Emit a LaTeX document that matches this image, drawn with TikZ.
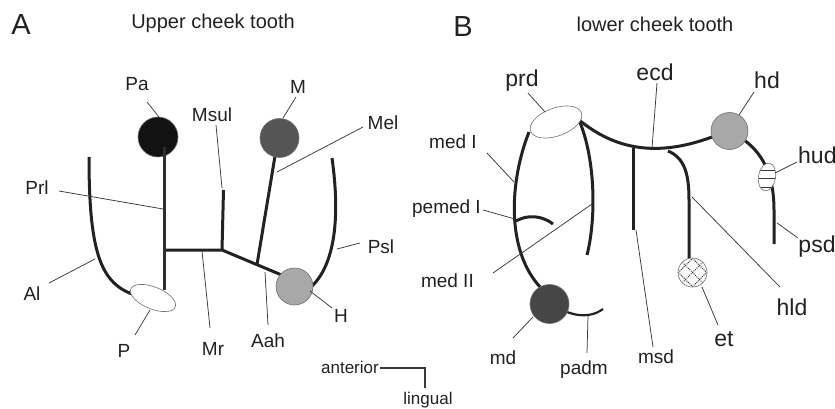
\documentclass[tikz,border=0pt]{standalone}
\usepackage{fontspec}
\setmainfont{Liberation Sans}
\usetikzlibrary{shapes.geometric}
\definecolor{ridgecol}{HTML}{222222}
\definecolor{leadcol}{HTML}{3A3A3A}
\definecolor{rimcol}{HTML}{707070}
\definecolor{txtcol}{HTML}{222222}
\definecolor{paCol}{HTML}{121212}
\definecolor{mCol}{HTML}{555555}
\definecolor{hCol}{HTML}{A8A8A8}
\definecolor{mdCol}{HTML}{464646}
\begin{document}
\begin{tikzpicture}[x=1pt,y=-1pt,
  ridge/.style={line width=3pt, draw=ridgecol, line cap=butt},
  leader/.style={line width=0.75pt, draw=leadcol},
  orient/.style={line width=1.1pt, draw=leadcol},
  cusp/.style={circle, draw=rimcol, line width=0.6pt, inner sep=0pt},
  oval/.style={ellipse, draw=rimcol, line width=0.6pt, inner sep=0pt, fill=white},
  hatch/.style={densely dotted, line width=1pt, draw=leadcol},
  lbl/.style={text=txtcol, font=\fontsize{19}{19}\selectfont, inner sep=0pt, anchor=base},
  lblbig/.style={lbl, font=\fontsize{23}{23}\selectfont},
  lblsmall/.style={lbl, font=\fontsize{17}{17}\selectfont},
  title/.style={lbl, font=\fontsize{20}{20}\selectfont},
  tag/.style={lbl, font=\fontsize{29}{29}\selectfont}]
\useasboundingbox[fill=white] (0,0) rectangle (835,409);

% ===================== A: upper cheek tooth =====================
\node[tag] (tagA) at (21,35) {A};
\node[title] (titleA) at (213,29) {Upper cheek tooth};

% ridge junctions
\coordinate (aMrW) at (164,250);
\coordinate (aMrE) at (222,250);
\coordinate (aMsulTop) at (223.5,190);
\coordinate (aHin) at (284,276);
\coordinate (aMfoot) at (257,264.5);
\coordinate (aMtop) at (276,150);
\coordinate (aPaTop) at (164,147);
\coordinate (aPaFoot) at (164,290);

% ridges
\draw[ridge] (aMrW) -- (aMrE) -- (aHin);
\draw[ridge] (aMrE) -- (aMsulTop);
\draw[ridge] (aMfoot) -- (aMtop);
\draw[ridge] (89,157) coordinate (aAlTop) .. controls (89,250) and (100,282) .. (132,294) coordinate (aAlEnd);
\draw[ridge] (332,158) coordinate (aPslTop) .. controls (340,215) and (336,265) .. (310,288) coordinate (aPslEnd);

% cusps
\node[cusp, fill=paCol, minimum size=40pt] (Pa) at (158,137) {};
\node[cusp, fill=mCol, minimum size=39pt] (M) at (279.5,138) {};
\node[cusp, fill=hCol, minimum size=37pt] (H) at (294.5,286.5) {};
\node[oval, minimum width=48pt, minimum height=22pt, rotate=-22] (P) at (153,298) {};
\draw[ridge, draw=black!82] (aPaTop) -- (aPaFoot);

% labels
\node[lbl] (lPa) at (137,91) {Pa};
\node[lbl] (lM) at (298,94) {M};
\node[lbl] (lMsul) at (212,122) {Msul};
\node[lbl] (lMel) at (383,130) {Mel};
\node[lbl] (lPrl) at (37,194) {Prl};
\node[lbl] (lPsl) at (381,253) {Psl};
\node[lbl] (lAl) at (32,300) {Al};
\node[lbl] (lH) at (341,322) {H};
\node[lbl] (lP) at (124,357) {P};
\node[lbl] (lMr) at (213,355) {Mr};
\node[lbl] (lAah) at (268,347) {Aah};

% leader lines
\coordinate (qPa) at (147,102);   \coordinate (pPa) at (159,117);
\coordinate (qM) at (296,97);     \coordinate (pM) at (283,118);
\coordinate (qMsul) at (216,125); \coordinate (pMsul) at (222,188);
\coordinate (qMel) at (363,127);  \coordinate (pMel) at (277,172);
\coordinate (qPrl) at (59,191);   \coordinate (pPrl) at (163,209);
\coordinate (qAl) at (49,283);    \coordinate (pAl) at (95,259);
\coordinate (qP) at (135,335);    \coordinate (pP) at (150,310);
\coordinate (qMr) at (210,328);   \coordinate (pMr) at (202,251);
\coordinate (qAah) at (268,325);  \coordinate (pAah) at (265,272);
\coordinate (qH) at (332,308);    \coordinate (pH) at (310,291);
\coordinate (qPsl) at (360,243);  \coordinate (pPsl) at (337,249);
\foreach \n in {Pa,M,Msul,Mel,Prl,Al,P,Mr,Aah,H,Psl}
  \draw[leader] (q\n) -- (p\n);

% orientation marker
\coordinate (oA) at (380,368);
\coordinate (oC) at (425,368);
\coordinate (oL) at (425,388);
\draw[orient] (oA) -- (oC) -- (oL);
\node[lblsmall, anchor=base east] (lAnt) at (379,373) {anterior};
\node[lblsmall] (lLing) at (428,404) {lingual};

% ===================== B: lower cheek tooth =====================
\node[tag] (tagB) at (463,37) {B};
\node[title] (titleB) at (655,32) {lower cheek tooth};

% ridges
\draw[ridge] (529,132) coordinate (bMedTop) .. controls (510,180) and (505,250) .. (541,288) coordinate (bMedEnd);
\draw[ridge] (579,120) coordinate (bPrdE) .. controls (596,160) and (596,220) .. (587,255) coordinate (bMed2End);
\draw[ridge] (bPrdE) .. controls (610,145) and (650,160) .. (712,137) coordinate (bHdW);
\draw[ridge] (633,148) coordinate (bEcd) -- (633,230) coordinate (bMsdEnd);
\draw[ridge] (668,151) coordinate (bHld) .. controls (685,158) and (689,175) .. (689,200) -- (689,259) coordinate (bEtTop);
\draw[ridge] (744,140) coordinate (bHdS) .. controls (766,156) and (774,180) .. (774,210) -- (774,244) coordinate (bPsdEnd);
\draw[ridge] (516,221) coordinate (bPemW) .. controls (528,214) and (543,216) .. (553,224) coordinate (bPemE);
\draw[ridge, line width=2.2pt] (567,312) coordinate (bPadmW) .. controls (583,318) and (595,315) .. (603,309) coordinate (bPadmE);

% cusps
\node[oval, minimum width=54pt, minimum height=28pt, rotate=20] (prd) at (556,122) {};
\node[cusp, fill=hCol, minimum size=37pt] (hd) at (729.5,131) {};
\node[cusp, fill=mdCol, minimum size=39pt] (md) at (549.5,304) {};
\node[cusp, fill=white, minimum size=29pt] (et) at (692.5,272.5) {};
\begin{scope}[shift={(692.5,272.5)}]
  \clip (0,0) circle (14);
  \foreach \o in {-14.1,0,14.1} {
    \draw[hatch] (-20,-20+\o) -- (20,20+\o);
    \draw[hatch] (-20,20+\o) -- (20,-20+\o);
  }
\end{scope}
\node[oval, minimum width=28pt, minimum height=17pt, rotate=80] (hud) at (767,177) {};
\begin{scope}
  \clip[rotate around={80:(767,177)}] (767,177) ellipse [x radius=13.7, y radius=8.2];
  \foreach \yy in {170,178.5,187}
    \draw[line width=0.7pt, draw=leadcol] (750,\yy) -- (785,\yy);
\end{scope}

% labels
\node[lblbig] (lprd) at (522,87) {prd};
\node[lblbig] (lecd) at (655,81) {ecd};
\node[lblbig] (lhd) at (767,89) {hd};
\node[lblbig, anchor=base west] (lhud) at (798,163) {hud};
\node[lblbig] (lpsd) at (817,252) {psd};
\node[lblbig] (lhld) at (792,315) {hld};
\node[lblbig] (let) at (724,346) {et};
\node[lbl] (lmedI) at (453,148) {med I};
\node[lbl, anchor=base east] (lpemed) at (481,213) {pemed I};
\node[lbl, anchor=base east] (lmedII) at (474,287) {med II};
\node[lbl] (lmd) at (503,364) {md};
\node[lbl] (lpadm) at (584,374) {padm};
\node[lbl] (lmsd) at (656,363) {msd};

% leader lines
\coordinate (qprd) at (528,93);    \coordinate (pprd) at (545,112);
\coordinate (qecd) at (657,83);    \coordinate (pecd) at (652,148);
\coordinate (qhd) at (754,92);     \coordinate (phd) at (739,115);
\coordinate (qhud) at (797,162);   \coordinate (phud) at (775,173);
\coordinate (qmedI) at (487,153);  \coordinate (pmedI) at (514,182);
\coordinate (qpemed) at (483,210); \coordinate (ppemed) at (515,219);
\coordinate (qmedII) at (493,273); \coordinate (pmedII) at (592,204);
\coordinate (qpsd) at (798,238);   \coordinate (ppsd) at (777,223);
\coordinate (qhld) at (780,287);   \coordinate (phld) at (692,197);
\coordinate (qet) at (718,325);    \coordinate (pet) at (702,287);
\coordinate (qmd) at (513,338);    \coordinate (pmd) at (533,317);
\coordinate (qpadm) at (587,353);  \coordinate (ppadm) at (588,316);
\coordinate (qmsd) at (653,347);   \coordinate (pmsd) at (636,230);
\foreach \n in {prd,ecd,hd,hud,medI,pemed,medII,psd,hld,et,md,padm,msd}
  \draw[leader] (q\n) -- (p\n);
\end{tikzpicture}
\end{document}
